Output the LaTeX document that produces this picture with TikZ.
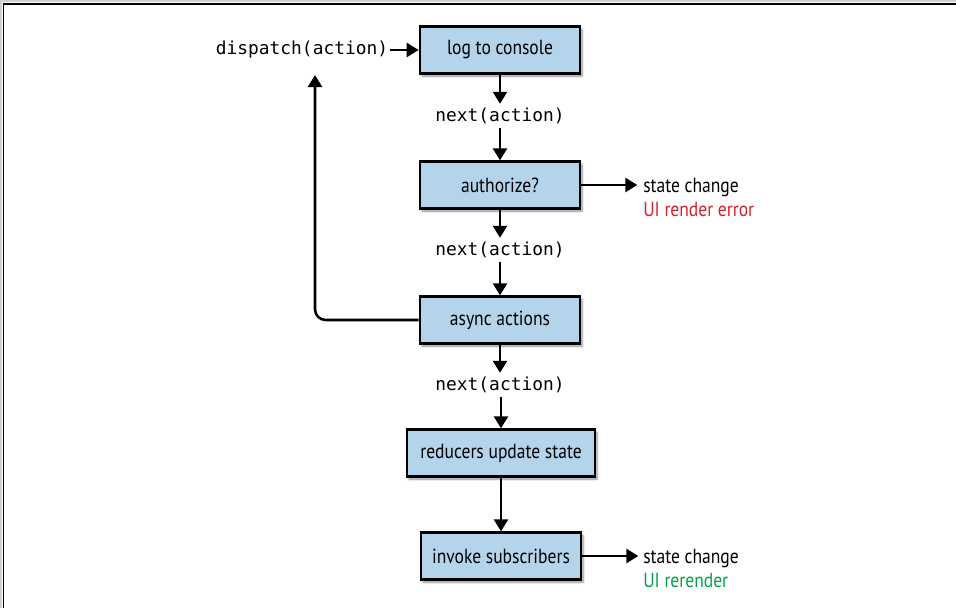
\documentclass[tikz,border=0pt]{standalone}
\usepackage{fontspec}
\setsansfont{PT Sans}[FakeStretch=0.86]
\setmonofont{DejaVu Sans Mono}
\usetikzlibrary{arrows.meta, shadows.blur}
\definecolor{BoxBlue}{HTML}{B3D4EA}
\definecolor{ErrRed}{HTML}{D2232A}
\definecolor{OkGreen}{HTML}{00A14B}
\definecolor{FrameGray}{HTML}{CFCFCF}
\tikzset{
  stage/.style={
    rectangle, draw=black, line width=2pt, fill=BoxBlue,
    minimum width=#1, minimum height=35pt,
    font=\sffamily\fontsize{15.3}{18}\selectfont,
    blur shadow={shadow xshift=1.5pt, shadow yshift=-2pt, shadow blur steps=6, shadow opacity=45}
  },
  stage/.default=120pt,
  call/.style={font=\ttfamily\fontsize{13.4}{16}\selectfont, inner sep=3pt},
  note/.style={font=\sffamily\fontsize{15.3}{18}\selectfont, align=left, anchor=west, inner sep=0pt},
  arr/.style={-{Triangle[length=9pt, width=10.5pt]}, line width=1.9pt},
}
\begin{document}
\begin{tikzpicture}[x=0.75pt, y=-0.75pt]
\useasboundingbox (0,0) rectangle (956,608);

% page frame
\draw[FrameGray, line width=1.5pt] (1,608) -- (1,1) -- (956,1);
\draw[line width=1.2pt] (3.5,608) -- (3.5,4) -- (956,4);

% middleware chain
\node[stage] at (500,50) (log) {log to console};
\node[call] at (500,116) (next1) {next(action)};
\node[stage] at (500,185) (auth) {authorize?};
\node[call] at (500,250) (next2) {next(action)};
\node[stage] at (500,320) (async) {async actions};
\node[call] at (500,385) (next3) {next(action)};
\node[stage=141pt] at (501,453) (reduce) {reducers update state};
\node[stage] at (501,556) (invoke) {invoke subscribers};

\node[call, inner sep=1pt] at (302,50) (dispatch) {dispatch(action)};

% side notes
\node[note] at (643,197) (errnote) {state change\\\textcolor{ErrRed}{UI render error}};
\node[note] at (643,568) (oknote) {state change\\\textcolor{OkGreen}{UI rerender}};

\coordinate (fb) at (315,75);

% connectors
\draw[arr] (dispatch.east) -- (log.west);
\draw[arr] (log) -- (next1);
\draw[arr] (next1) -- (auth);
\draw[arr] (auth) -- (next2);
\draw[arr] (next2) -- (async);
\draw[arr] (async) -- (next3);
\draw[arr] (next3.south -| reduce.north) -- (reduce.north);
\draw[arr] (reduce) -- (invoke);
\draw[arr] (auth.east) -- ++(56,0);
\draw[arr] (invoke.east) -- ++(56,0);
\draw[arr, rounded corners=8pt] (async.west) -| (fb);

\end{tikzpicture}
\end{document}
